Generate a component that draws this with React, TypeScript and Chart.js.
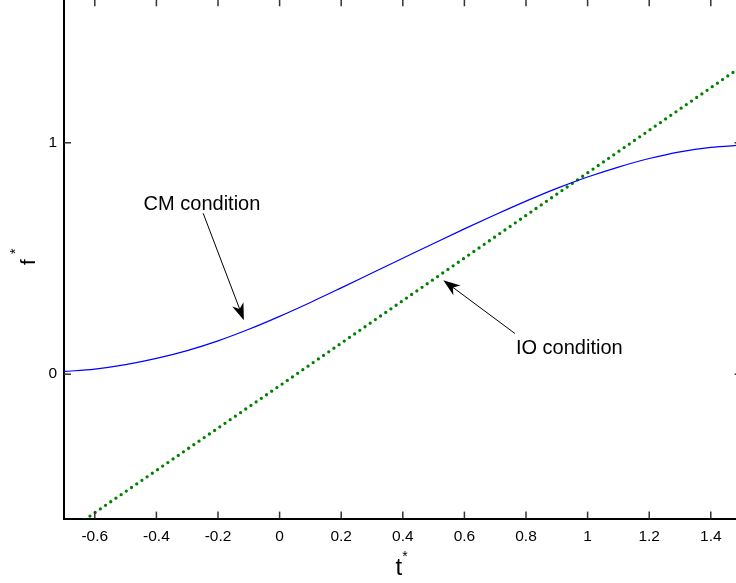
import React, { useEffect, useRef } from 'react';
import { Chart, registerables } from 'chart.js';

Chart.register(...registerables);

// ---- data ----
const tValues = [-0.7, -0.6, -0.5, -0.4, -0.3, -0.2, -0.1, 0, 0.1, 0.2, 0.3, 0.4, 0.5, 0.6, 0.7, 0.8, 0.9, 1.0, 1.1, 1.2, 1.3, 1.4, 1.5];
const cmValues = [0.012, 0.022, 0.041, 0.068, 0.102, 0.144, 0.194, 0.25, 0.31, 0.373, 0.437, 0.501, 0.565, 0.628, 0.689, 0.748, 0.803, 0.852, 0.895, 0.932, 0.961, 0.98, 0.99];
const ioT = [-0.7, 0, 0.5, 1.0, 1.5];
const ioValues = [-0.69, -0.05, 0.41, 0.87, 1.33];
const xTicks = [-0.6, -0.4, -0.2, 0, 0.2, 0.4, 0.6, 0.8, 1, 1.2, 1.4];
const yTicks = [0, 1];
const xRange = [-0.7, 1.5];
const yRange = [-0.624, 1.62];
const cmLabel = { text: 'CM condition', x: -0.252, y: 0.709, fromX: -0.248, fromY: 0.695, toX: -0.116, toY: 0.2335 };
const ioLabel = { text: 'IO condition', x: 0.9406, y: 0.0865, fromX: 0.764, fromY: 0.176, toX: 0.5315, toY: 0.406 };
const annotations = [cmLabel, ioLabel];

const FONT = '"Liberation Sans", Arial, Helvetica, sans-serif';
const CANVAS_W = 760;
const CANVAS_H = 640;
const AREA_H = 519.3; // plot-area height in px
const AREA_TOP_PAGE = -1; // plot box top edge sits just above the window

const overlay = {
  id: 'overlay',
  afterDraw(chart: any) {
    const { ctx, chartArea: a, scales } = chart;
    const x = scales.x;
    const y = scales.y;
    const line = (x1: number, y1: number, x2: number, y2: number) => {
      ctx.beginPath();
      ctx.moveTo(x1, y1);
      ctx.lineTo(x2, y2);
      ctx.stroke();
    };
    ctx.save();
    ctx.setLineDash([]);
    ctx.lineCap = 'butt';
    // inward tick marks on all four sides
    ctx.strokeStyle = '#333';
    ctx.lineWidth = 1.5;
    xTicks.forEach((v) => {
      const px = x.getPixelForValue(v);
      line(px, a.bottom, px, a.bottom - 7);
      line(px, a.top, px, a.top + 7);
    });
    yTicks.forEach((v) => {
      const py = y.getPixelForValue(v);
      line(a.left, py, a.left + 7, py);
      line(a.right, py, a.right - 7, py);
    });
    // right box edge (the top edge lies above the window)
    ctx.strokeStyle = '#000';
    ctx.lineWidth = 2;
    line(a.right, a.top, a.right, a.bottom);

    // annotations with arrows
    annotations.forEach((an) => {
      const fx = x.getPixelForValue(an.fromX);
      const fy = y.getPixelForValue(an.fromY);
      const tx = x.getPixelForValue(an.toX);
      const ty = y.getPixelForValue(an.toY);
      const dx = tx - fx;
      const dy = ty - fy;
      const len = Math.hypot(dx, dy);
      const ux = dx / len;
      const uy = dy / len;
      const L = 17;
      const W = 6;
      const N = 12;
      ctx.strokeStyle = '#000';
      ctx.lineWidth = 1;
      line(fx, fy, tx - ux * N, ty - uy * N);
      ctx.fillStyle = '#000';
      ctx.beginPath();
      ctx.moveTo(tx, ty);
      ctx.lineTo(tx - ux * L - uy * W, ty - uy * L + ux * W);
      ctx.lineTo(tx - ux * N, ty - uy * N);
      ctx.lineTo(tx - ux * L + uy * W, ty - uy * L - ux * W);
      ctx.closePath();
      ctx.fill();
      ctx.font = `20px ${FONT}`;
      ctx.textAlign = 'center';
      ctx.textBaseline = 'alphabetic';
      ctx.fillText(an.text, x.getPixelForValue(an.x), y.getPixelForValue(an.y));
    });

    // axis titles
    ctx.fillStyle = '#000';
    const cx = (a.left + a.right) / 2;
    ctx.font = `24px ${FONT}`;
    ctx.textAlign = 'center';
    ctx.textBaseline = 'alphabetic';
    ctx.fillText('t', cx - 4, a.bottom + 56.7);
    ctx.font = `14px ${FONT}`;
    ctx.fillText('*', cx + 2.2, a.bottom + 42);

    ctx.save();
    ctx.translate(35, y.getPixelForValue(0.484));
    ctx.rotate(-Math.PI / 2);
    ctx.font = `21px ${FONT}`;
    ctx.textAlign = 'center';
    ctx.fillText('f', 0, 0);
    ctx.font = `14px ${FONT}`;
    ctx.fillText('*', 11, -15);
    ctx.restore();

    ctx.restore();
  },
};

export default function App() {
  const ref = useRef<HTMLCanvasElement>(null);
  const wrapRef = useRef<HTMLDivElement>(null);
  useEffect(() => {
    if (!ref.current) return;
    let areaTop = 9;
    const chart = new Chart(ref.current, {
      type: 'line',
      data: {
        datasets: [
          {
            label: 'CM condition',
            data: tValues.map((t, i) => ({ x: t, y: cmValues[i] })),
            borderColor: '#0000ff',
            borderWidth: 1.2,
            pointRadius: 0,
            fill: false,
            cubicInterpolationMode: 'monotone',
          },
          {
            label: 'IO condition',
            data: ioT.map((t, i) => ({ x: t, y: ioValues[i] })),
            borderColor: '#008000',
            borderWidth: 3.3,
            borderDash: [0, 6.3],
            borderCapStyle: 'round',
            pointRadius: 0,
            fill: false,
            tension: 0,
          },
        ],
      },
      options: {
        animation: false,
        responsive: false,
        layout: { autoPadding: false, padding: { left: 0, right: 18.4, top: 9, bottom: 0 } },
        plugins: { legend: { display: false }, tooltip: { enabled: false } },
        scales: {
          x: {
            type: 'linear',
            min: xRange[0],
            max: xRange[1],
            afterBuildTicks: (s: any) => {
              s.ticks = xTicks.map((v) => ({ value: v }));
            },
            afterFit: (s: any) => {
              s.height = CANVAS_H - areaTop - AREA_H;
            },
            grid: { display: false, drawTicks: false },
            border: { display: true, color: '#000', width: 2 },
            ticks: {
              autoSkip: false,
              maxRotation: 0,
              padding: 9,
              color: '#000',
              font: { family: FONT, size: 15.5 },
              callback: (v: any) => String(Number(v)),
            },
          },
          y: {
            type: 'linear',
            min: yRange[0],
            max: yRange[1],
            afterBuildTicks: (s: any) => {
              s.ticks = yTicks.map((v) => ({ value: v }));
            },
            afterFit: (s: any) => {
              s.width = 64;
            },
            grid: { display: false, drawTicks: false },
            border: { display: true, color: '#000', width: 2 },
            ticks: {
              autoSkip: false,
              padding: 7,
              color: '#000',
              font: { family: FONT, size: 15.5 },
              callback: (v: any) => String(Number(v)),
            },
          },
        },
      },
      plugins: [overlay],
    } as any);
    areaTop = chart.chartArea.top;
    chart.update();
    if (wrapRef.current) {
      wrapRef.current.style.top = `${AREA_TOP_PAGE - chart.chartArea.top}px`;
    }
    return () => chart.destroy();
  }, []);

  return (
    <div style={{ position: 'fixed', left: 0, top: 0, width: 736, height: 583, overflow: 'hidden', background: '#fff' }}>
      <div ref={wrapRef} style={{ position: 'absolute', left: 0, top: -10, width: CANVAS_W, height: CANVAS_H }}>
        <canvas ref={ref} width={CANVAS_W} height={CANVAS_H} style={{ display: 'block' }} />
      </div>
    </div>
  );
}
